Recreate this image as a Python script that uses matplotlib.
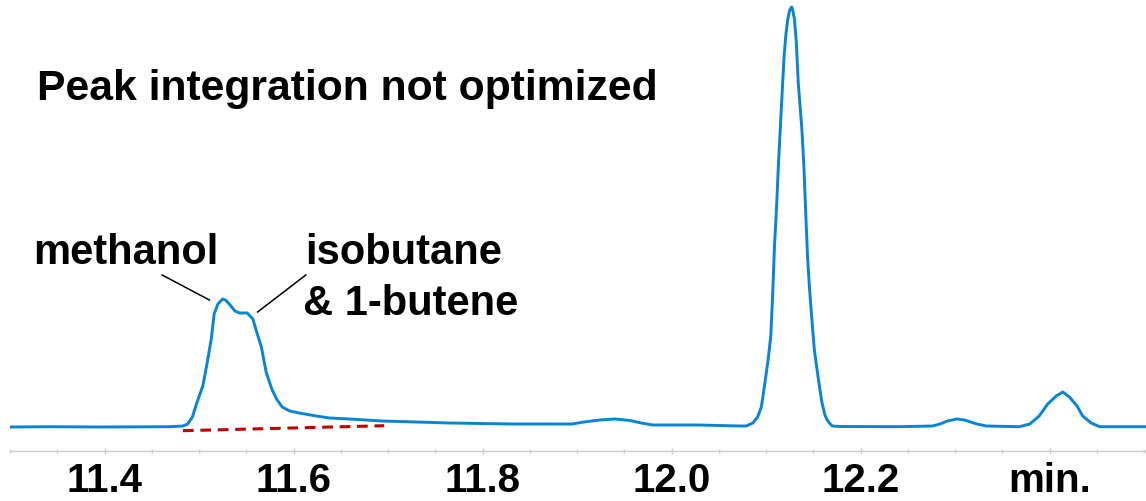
import numpy as np
import matplotlib.pyplot as plt
from matplotlib.ticker import MultipleLocator, FixedLocator

plt.rcParams['font.family'] = ['Liberation Sans', 'DejaVu Sans']
plt.rcParams['font.weight'] = 'bold'

# detector trace, retention time (min) vs. signal (baseline = 0)
time_min = [11.300, 11.342, 11.395, 11.448, 11.469, 11.483, 11.488, 11.493,
            11.498, 11.504, 11.508, 11.513, 11.516, 11.520, 11.525, 11.528,
            11.532, 11.538, 11.543, 11.551, 11.557, 11.561, 11.566, 11.571,
            11.577, 11.582, 11.588, 11.596, 11.606, 11.624, 11.638, 11.659,
            11.694, 11.730, 11.765, 11.832, 11.895, 11.907, 11.924, 11.940,
            11.956, 11.968, 11.980, 12.029, 12.072, 12.079, 12.086, 12.091,
            12.095, 12.098, 12.102, 12.105, 12.107, 12.109, 12.111, 12.113,
            12.116, 12.119, 12.121, 12.123, 12.125, 12.127, 12.128, 12.130,
            12.132, 12.134, 12.138, 12.140, 12.142, 12.144, 12.146, 12.148,
            12.151, 12.155, 12.159, 12.162, 12.164, 12.167, 12.170, 12.178,
            12.241, 12.276, 12.284, 12.292, 12.302, 12.310, 12.323, 12.333,
            12.368, 12.379, 12.389, 12.398, 12.407, 12.414, 12.421, 12.429,
            12.435, 12.444, 12.453, 12.502]
signal = [0.0, 0.3, 0.0, 0.2, 0.3, 1, 3, 10,
          25, 41, 61, 88, 113, 123, 128, 127,
          123, 116, 114, 114, 108, 95, 80, 55,
          38, 28, 20, 16, 14, 11, 9, 8,
          6, 5, 4, 3, 3, 5, 7, 8,
          6.5, 4, 2, 2, 1, 1, 4, 10,
          20, 39, 66, 91, 133, 183, 218, 261,
          316, 370, 393, 408, 417, 420, 418, 408,
          385, 345, 296, 261, 213, 168, 138, 113,
          78, 50, 25, 13, 8, 4, 1, 0.5,
          0.3, 1, 3, 6, 8, 7, 3, 1,
          0.3, 3, 11, 23, 31, 35, 30, 21,
          11, 4, 0.3, 0.3]

# integration baseline drawn under the first peak
base_time = [11.483, 11.696]
base_signal = [-3.7, 1.3]

tick_pos = [11.4, 11.6, 11.8, 12.0, 12.2, 12.4]
tick_labels = ['11.4', '11.6', '11.8', '12.0', '12.2', 'min.']

W, H = 1146, 502
fig = plt.figure(figsize=(W / 100, H / 100), dpi=100)
ax = fig.add_axes([10 / W, (H - 452) / H, 1 - 10 / W, 452 / H])

ax.plot(time_min, signal, color='#0784d6', lw=2.1, solid_joinstyle='round')
ax.plot(base_time, base_signal, color='#c00000', lw=2.2, ls=(0, (3.5, 2.2)))

# leader lines from labels to the peaks
ax.plot([11.461, 11.511], [152, 127], color='black', lw=1.1)
ax.plot([11.613, 11.562], [152, 115], color='black', lw=1.1)

ax.set_xlim(11.300, 12.502)
ax.set_ylim(-24, 428)

for side in ['left', 'right', 'top']:
    ax.spines[side].set_visible(False)
ax.spines['bottom'].set_color('#cccccc')
ax.spines['bottom'].set_linewidth(1.0)
ax.set_yticks([])
ax.xaxis.set_major_locator(FixedLocator(tick_pos))
ax.xaxis.set_minor_locator(MultipleLocator(0.05))
ax.set_xticklabels(tick_labels, fontsize=29, fontweight='bold')
ax.tick_params(axis='x', which='major', direction='inout', length=5,
               width=1, color='#cccccc', pad=5)
ax.tick_params(axis='x', which='minor', direction='inout', length=3,
               width=1, color='#cccccc')


def label(x, y, s, size=30):
    fig.text(x / W, 1 - y / H, s, fontsize=size, fontweight='bold',
             va='baseline', ha='left')


label(37, 100, 'Peak integration not optimized', size=30.7)
label(33, 264, 'methanol')
label(305, 264, 'isobutane')
label(303, 315, '& 1-butene')

fig.savefig('out.png', dpi=100)
